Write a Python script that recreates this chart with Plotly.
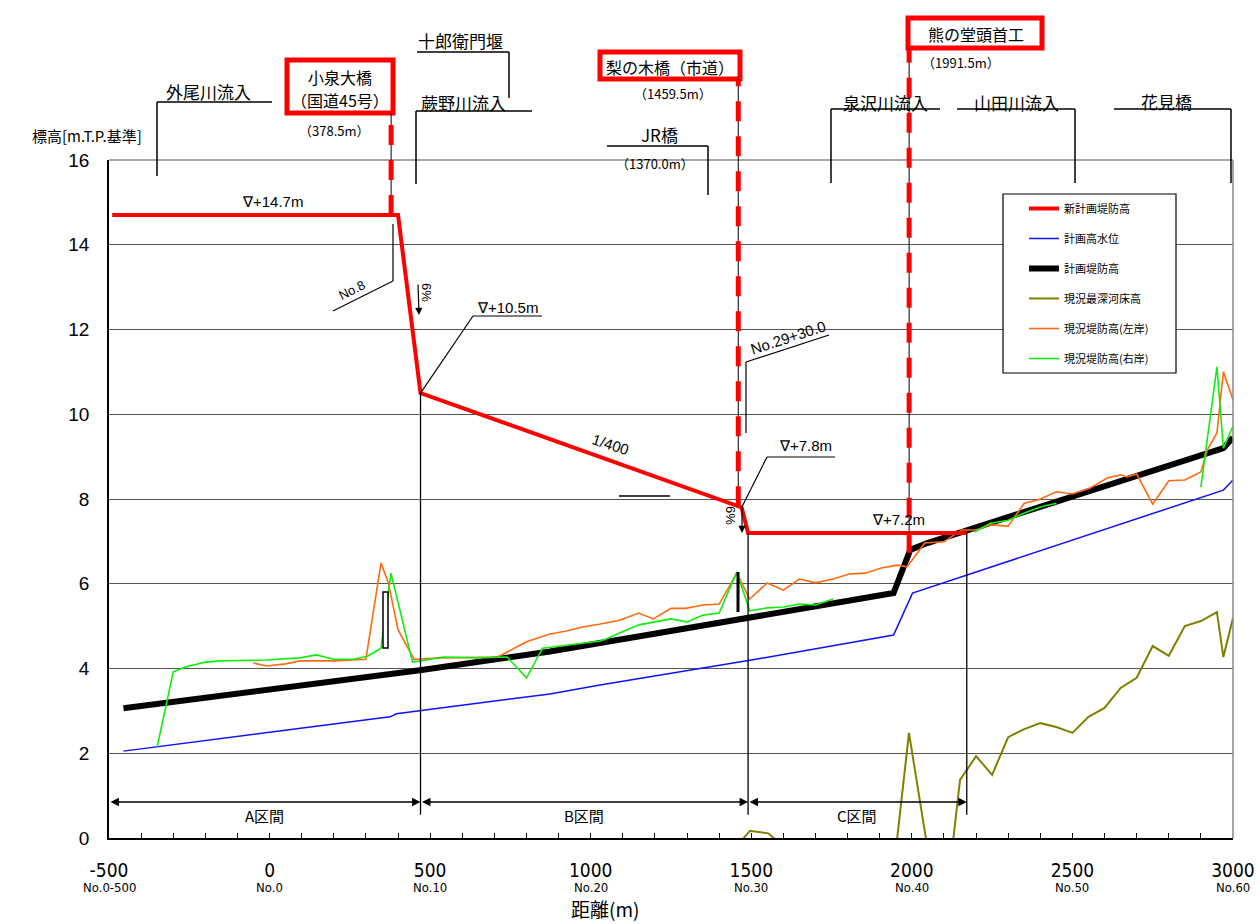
import plotly.graph_objects as go
import numpy as np

# ---------------- data ----------------
# distance along the river (m) and elevation (m, T.P.)
new_levee_x = [-490, 400, 470, 1470, 1490, 2171]
new_levee_y = [14.7, 14.7, 10.5, 7.8, 7.2, 7.2]

hwl_x = [-455, 375, 395, 468, 873, 1029, 1500, 1943, 2002, 2970, 3000]
hwl_y = [2.05, 2.86, 2.93, 3.00, 3.40, 3.61, 4.20, 4.79, 5.78, 8.21, 8.45]

levee_x = [-455, 375, 395, 468, 873, 1029, 1500, 1943, 1995, 2048, 2970, 3000]
levee_y = [3.06, 3.85, 3.90, 3.96, 4.40, 4.60, 5.21, 5.78, 6.80, 6.96, 9.20, 9.45]

bed_x = [1465, 1496, 1553, 1600, 1950, 1991, 2050, 2125, 2150, 2200, 2250, 2300,
         2350, 2400, 2450, 2500, 2550, 2600, 2650, 2700, 2750, 2800, 2850, 2900,
         2950, 2970, 3000]
bed_y = [-0.1, 0.17, 0.11, -0.2, -0.3, 2.48, -0.3, -0.3, 1.37, 1.93, 1.49, 2.38,
         2.57, 2.71, 2.62, 2.48, 2.86, 3.07, 3.54, 3.78, 4.53, 4.30, 5.00, 5.12,
         5.33, 4.27, 5.19]

left_x = [-50, -10, 50, 95, 200, 300, 347, 370, 400, 450, 540, 710, 800, 870, 920,
          975, 1030, 1090, 1150, 1195, 1250, 1295, 1350, 1400, 1455, 1495, 1550,
          1600, 1650, 1700, 1755, 1805, 1855, 1905, 1955, 1985, 2005, 2040, 2100,
          2155, 2200, 2245, 2300, 2350, 2395, 2450, 2500, 2555, 2610, 2650, 2670,
          2700, 2750, 2800, 2850, 2900, 2920, 2950, 2970, 3000]
left_y = [4.13, 4.06, 4.11, 4.18, 4.18, 4.22, 6.49, 6.02, 4.91, 4.22, 4.25, 4.27,
          4.63, 4.81, 4.88, 4.98, 5.05, 5.14, 5.31, 5.17, 5.42, 5.42, 5.50, 5.52,
          6.25, 5.64, 6.02, 5.85, 6.11, 6.02, 6.11, 6.23, 6.25, 6.37, 6.44, 6.40,
          6.60, 6.96, 6.99, 7.27, 7.27, 7.39, 7.36, 7.90, 7.98, 8.17, 8.12, 8.26,
          8.50, 8.57, 8.52, 8.59, 7.88, 8.43, 8.45, 8.64, 9.16, 9.56, 11.0, 10.34]

right_x = [-350, -300, -260, -200, -155, -10, 95, 145, 200, 260, 305, 347, 378,
           445, 470, 540, 645, 740, 800, 850, 875, 1030, 1050, 1090, 1150, 1195,
           1250, 1300, 1350, 1400, 1455, 1495, 1550, 1600, 1650, 1700, 1755, 1975,
           2195, 2245, 2300, 2350, 2400, 2450, 2675, 2900, 2950, 2970, 3000]
right_y = [2.15, 3.92, 4.04, 4.15, 4.18, 4.20, 4.25, 4.32, 4.22, 4.22, 4.29, 4.48,
           6.25, 4.15, 4.18, 4.27, 4.25, 4.27, 3.78, 4.48, 4.50, 4.65, 4.70, 4.84,
           5.03, 5.10, 5.17, 5.10, 5.26, 5.31, 6.28, 5.36, 5.43, 5.45, 5.52, 5.50,
           5.64, None, 7.22, 7.43, 7.50, 7.67, 7.81, 7.90, None, 8.28, 11.12, 9.20,
           9.72]

dist_ticks = [-500, 0, 500, 1000, 1500, 2000, 2500, 3000]
station_labels = ["No.0-500", "No.0", "No.10", "No.20", "No.30", "No.40", "No.50", "No.60"]

# structures with surveyed chainage (m)
bridge_names = [("小泉大橋", "（国道45号）"), ("梨の木橋（市道）",), ("熊の堂頭首工",)]
bridge_pos = [378.5, 1459.5, 1991.5]
jr_pos = 1370.0

section_names = ["A区間", "B区間", "C区間"]

# ---------------- geometry helpers ----------------
X0, X1, Y0, Y1 = -500, 3000, 0, 16
L, R, T, B = 109, 1233, 160, 838          # plot box in page pixels
W, H = 1260, 924

JP = "Noto Sans CJK JP, sans-serif"
NUM = "Liberation Sans Narrow, DejaVu Sans Condensed, Liberation Sans, sans-serif"
SANS = "Liberation Sans, Arial, sans-serif"


def px(p):
    return (p - L) / (R - L)


def py(p):
    return (B - p) / (B - T)


def dx(v):
    return (v - X0) / (X1 - X0)


def dy(v):
    return (v - Y0) / (Y1 - Y0)


shapes = []
annotations = []


def seg(x0, y0, x1, y1, color="black", width=1.2, dash=None, layer="above"):
    shapes.append(dict(type="line", xref="paper", yref="paper", x0=x0, y0=y0,
                       x1=x1, y1=y1, layer=layer,
                       line=dict(color=color, width=width, dash=dash)))


def label(text, x, y, size=17, family=JP, angle=0, xanchor="center"):
    annotations.append(dict(text=text, x=x, y=y, xref="paper", yref="paper",
                            xanchor=xanchor, yanchor="middle", showarrow=False,
                            textangle=angle, borderpad=0,
                            font=dict(size=size, family=family, color="black")))


# ---------------- traces ----------------
fig = go.Figure()
common = dict(mode="lines", hoverinfo="skip")
fig.add_trace(go.Scatter(x=hwl_x, y=hwl_y, name="計画高水位", legendrank=2,
                         legendgroup="g2", line=dict(color="#1010ff", width=1.5), **common))
fig.add_trace(go.Scatter(x=bed_x, y=bed_y, name="現況最深河床高", legendrank=4,
                         legendgroup="g4", line=dict(color="#808000", width=2), **common))
fig.add_trace(go.Scatter(x=levee_x, y=levee_y, name="計画堤防高", legendrank=3,
                         legendgroup="g3", line=dict(color="black", width=6), **common))
fig.add_trace(go.Scatter(x=left_x, y=left_y, name="現況堤防高(左岸)", legendrank=5,
                         legendgroup="g5", line=dict(color="#ff6a10", width=1.6), **common))
fig.add_trace(go.Scatter(x=right_x, y=right_y, name="現況堤防高(右岸)", legendrank=6,
                         legendgroup="g6", line=dict(color="#10ee10", width=1.6),
                         connectgaps=False, **common))
fig.add_trace(go.Scatter(x=new_levee_x, y=new_levee_y, name="新計画堤防高", legendrank=1,
                         legendgroup="g1", line=dict(color="#ff0000", width=4), **common))

# ---------------- frame ----------------
seg(0, 1, 1, 1, color="#888888", width=1.5)
seg(1, 0, 1, 1, color="#888888", width=1.5)

# ---------------- sections A/B/C ----------------
bounds = [X0, new_levee_x[2], new_levee_x[4], new_levee_x[5]]
for bx in bounds[1:]:
    top = float(np.interp(bx, new_levee_x, new_levee_y))
    shapes.append(dict(type="line", xref="x", yref="y", x0=bx, x1=bx, y0=top, y1=0.55,
                       layer="above", line=dict(color="black", width=1.3)))
arrow_y = 0.85
for i, name in enumerate(section_names):
    a, b = bounds[i], bounds[i + 1]
    annotations.append(dict(x=b, y=arrow_y, ax=a, ay=arrow_y, xref="x", yref="y",
                            axref="x", ayref="y", text="", showarrow=True,
                            arrowhead=2, arrowside="end+start", arrowsize=1.3,
                            arrowwidth=1.3, arrowcolor="black", standoff=0,
                            startstandoff=0))
    annotations.append(dict(x=(a + b) / 2, y=0.52, xref="x", yref="y", text=name,
                            showarrow=False, font=dict(size=15, family=JP, color="black")))

# ---------------- structures with red boxes ----------------
box_px = [(287, 60, 393, 113), (600, 52, 740, 79), (908, 18, 1042, 48)]
name_px = [(340, 77), (670, 67), (976, 34)]
pos_px = [(334, 131), (673, 93), (961, 62)]
dash_end = [
    float(np.interp(bridge_pos[0], new_levee_x, new_levee_y)),
    float(np.interp(bridge_pos[1], new_levee_x, new_levee_y)),
    float(np.interp(bridge_pos[2], levee_x, levee_y)),
]
for lines, pos, bx, npx, ppx, yend in zip(bridge_names, bridge_pos, box_px, name_px,
                                          pos_px, dash_end):
    x0, y0, x1, y1 = bx
    shapes.append(dict(type="rect", xref="paper", yref="paper", x0=px(x0), x1=px(x1),
                       y0=py(y0), y1=py(y1), layer="above",
                       line=dict(color="#ff0000", width=5)))
    for k, line_text in enumerate(lines):
        label(line_text, px(npx[0]), py(npx[1] + 23 * k), size=16)
    label(f"（{pos}m）", px(ppx[0]), py(ppx[1]), size=13)
    seg(dx(pos), dy(yend), dx(pos), py(y1), color="black", width=1)
    seg(dx(pos), dy(yend), dx(pos), py(y1 + 2), color="#ff0000", width=5, dash="20px,15px")

# ---------------- tributaries / other structures ----------------
# (text centre, horizontal leader, vertical leader)
leaders = [
    ("外尾川流入", (208, 92), (157, 272, 102), (157, 102, 176)),
    ("十郎衛門堰", (460, 41), (417, 509, 52), (509, 52, 98)),
    ("蕨野川流入", (463, 102), (416, 532, 111), (416, 111, 184)),
    ("JR橋", (659, 134), (607, 708, 146), (708, 146, 195)),
    ("泉沢川流入", (885, 102), (831, 940, 109), (831, 109, 183)),
    ("山田川流入", (1016, 102), (957, 1075, 109), (1075, 109, 183)),
    ("花見橋", (1166, 101), (1114, 1231, 109), (1231, 109, 183)),
]
for text, (tx, ty), (hx0, hx1, hy), (vx, vy0, vy1) in leaders:
    label(text, px(tx), py(ty), size=17)
    seg(px(hx0), py(hy), px(hx1), py(hy), width=1.5)
    seg(px(vx), py(vy0), px(vx), py(vy1), width=1.5)
label(f"（{jr_pos}m）", px(655), py(163), size=13)

# ---------------- design height callouts ----------------
label(f"∇+{new_levee_y[0]}m", px(272), py(201), size=15, family=SANS)
label(f"∇+{new_levee_y[2]}m", px(507), py(307), size=15, family=SANS)
seg(px(473), py(316), px(542), py(316))
seg(px(473), py(316), dx(new_levee_x[2]), dy(new_levee_y[2]))
label(f"∇+{new_levee_y[3]}m", px(805), py(446), size=15, family=SANS)
seg(px(767), py(457), px(835), py(457))
seg(px(767), py(457), dx(new_levee_x[3]), dy(new_levee_y[3]))
label(f"∇+{new_levee_y[4]}m", px(898), py(519), size=15, family=SANS)

label("No.8", px(351), py(290), size=13, family=SANS, angle=-27)
seg(px(333), py(311), px(393), py(281))
seg(px(393), py(281), px(393), py(224))

label("No.29+30.0", px(788), py(337), size=15, family=SANS, angle=-18)
seg(px(746), py(362), px(829), py(335))
seg(px(746), py(362), px(746), py(433))

label("1/400", px(611), py(444), size=15, family=SANS, angle=18)
seg(px(619), py(496), px(670), py(496), width=1.5)

label("6%", px(427), py(292), size=13, family=SANS, angle=90)
label("6%", px(731), py(515), size=13, family=SANS, angle=90)
for hx, hy, tx, ty in [(419, 315, 418, 283), (742, 533, 742, 506)]:
    annotations.append(dict(x=px(hx), y=py(hy), xref="paper", yref="paper",
                            ax=tx - hx, ay=ty - hy, text="", showarrow=True,
                            arrowhead=2, arrowsize=1.2, arrowwidth=1.2,
                            arrowcolor="black", standoff=0))

# small markers on the survey lines
shapes.append(dict(type="rect", xref="paper", yref="paper", x0=px(383), x1=px(388),
                   y0=py(648), y1=py(592), layer="above", fillcolor="white",
                   line=dict(color="black", width=1.5)))
seg(px(738), py(572), px(738), py(612), width=3)

# ---------------- legend frame ----------------
shapes.append(dict(type="rect", xref="paper", yref="paper", x0=px(1003), x1=px(1176),
                   y0=py(373), y1=py(194), layer="above", fillcolor="white",
                   line=dict(color="black", width=1.2)))

# ---------------- station numbers under the distance ticks ----------------
for d, s in zip(dist_ticks, station_labels):
    label(s, dx(d), py(887), size=13, family=NUM)

# ---------------- axis titles ----------------
label("標高[m.T.P.基準]", px(87), py(136), size=15)
label("距離(m)", px(605), py(908), size=19)

fig.update_layout(
    width=W, height=H,
    margin=dict(l=L, r=W - R, t=T, b=H - B, pad=0),
    paper_bgcolor="white", plot_bgcolor="white",
    showlegend=True,
    legend=dict(x=px(1024), y=py(194), xanchor="left", yanchor="top",
                bgcolor="rgba(0,0,0,0)", borderwidth=0, traceorder="grouped",
                tracegroupgap=11, font=dict(size=11, family=JP, color="black")),
    xaxis=dict(range=[X0, X1], tickmode="array", tickvals=dist_ticks,
               ticktext=[str(d) for d in dist_ticks],
               ticks="inside", ticklen=5, tickcolor="black", tickwidth=1,
               showline=True, linecolor="black", linewidth=2, showgrid=False,
               zeroline=False, ticklabelstandoff=14, automargin=False,
               tickfont=dict(size=19, family=NUM, color="black"),
               minor=dict(tickmode="linear", tick0=X0, dtick=100, ticks="inside",
                          ticklen=5, tickcolor="black", showgrid=False)),
    yaxis=dict(range=[Y0, Y1], dtick=2, showgrid=True, gridcolor="#555555", gridwidth=1,
               showline=True, linecolor="black", linewidth=1.5, zeroline=False,
               ticks="", ticklabelstandoff=14, automargin=False,
               tickfont=dict(size=19, family=SANS, color="black")),
    shapes=shapes,
    annotations=annotations,
)

fig.write_html("out.html")
